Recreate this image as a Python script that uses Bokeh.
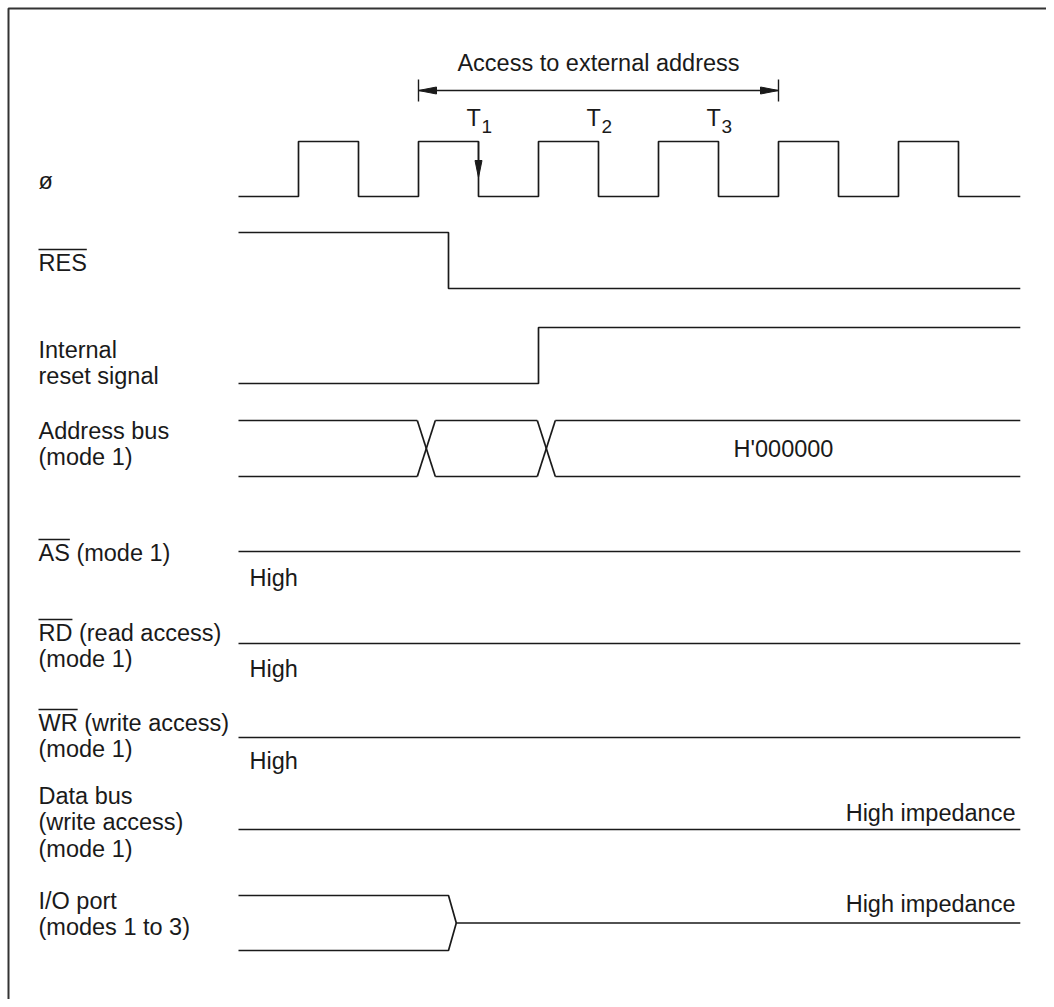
from bokeh.plotting import figure
from bokeh.models import Range1d
from bokeh.core.properties import value
from bokeh.embed import file_html
from bokeh.resources import INLINE

# ---------------- data (time in clock half-cycles, 0 = left end of waveforms) ----
clock_edges = [1, 2, 3, 4, 5, 6, 7, 8, 9, 10, 11, 12]   # alternating rise / fall
wave_end = 13.03
res_fall = 3.5
int_reset_rise = 5.0
addr_cross = [2.98, 4.98]      # start of each address-bus transition
cross_width = 0.3
io_hiz_start = 3.5
io_hiz_width = 0.13
access_span = [3.0, 9.0]
t_label_pos = [3.8, 5.8, 7.8]
t_label_sub = ["1", "2", "3"]
sample_edge = 4.0

signal_labels = [["ø"], ["RES"], ["Internal", "reset signal"],
                 ["Address bus", "(mode 1)"], ["AS (mode 1)"],
                 ["RD (read access)", "(mode 1)"], ["WR (write access)", "(mode 1)"],
                 ["Data bus", "(write access)", "(mode 1)"],
                 ["I/O port", "(modes 1 to 3)"]]
overlined = ["", "RES", "", "", "AS", "RD", "WR", "", ""]
label_top_y = [180, 262, 349, 430, 552, 632, 722, 795, 900]
state_notes = ["High", "High", "High"]
state_note_y = [577, 668, 760]
hiz_notes = ["High impedance", "High impedance"]
hiz_note_y = [812, 903]

# ---------------- layout (pixel geometry) ----------------
W, H = 1046, 999
X0, PX_PER_T = 238.0, 60.0


def t_of(px):
    return (px - X0) / PX_PER_T


INK = "#1a1a1a"
FONT = value("Liberation Sans")
FS = value("23.5px")
LW = 1.7

p = figure(width=W, height=H, output_backend="svg", toolbar_location=None,
           x_range=Range1d(t_of(0), t_of(W)), y_range=Range1d(H, 0),
           min_border=0)
p.axis.visible = False
p.grid.visible = False
p.outline_line_color = None
p.background_fill_color = "white"
p.border_fill_color = "white"

# page frame (top and left edges)
p.line([t_of(8), t_of(8), t_of(W + 5)], [H + 5, 8, 8], line_color="#333333", line_width=2)

# ---------------- clock ----------------
CLK_HI, CLK_LO = 141, 196
xs, ys = [0], [CLK_LO]
level = CLK_LO
for e in clock_edges:
    xs += [e, e]
    nxt = CLK_HI if level == CLK_LO else CLK_LO
    ys += [level, nxt]
    level = nxt
xs.append(wave_end); ys.append(level)
p.line(xs, ys, line_color=INK, line_width=LW)

# ---------------- RES ----------------
RES_HI, RES_LO = 232, 288
p.line([0, res_fall, res_fall, wave_end], [RES_HI, RES_HI, RES_LO, RES_LO],
       line_color=INK, line_width=LW)

# ---------------- internal reset ----------------
INT_LO, INT_HI = 383, 327
p.line([0, int_reset_rise, int_reset_rise, wave_end], [INT_LO, INT_LO, INT_HI, INT_HI],
       line_color=INK, line_width=LW)

# ---------------- address bus ----------------
A_T, A_B = 420, 476
segs_x, segs_y = [], []
starts = [0] + [c + cross_width for c in addr_cross]
ends = addr_cross + [wave_end]
for s, e in zip(starts, ends):
    segs_x += [[s, e], [s, e]]
    segs_y += [[A_T, A_T], [A_B, A_B]]
for c in addr_cross:
    segs_x += [[c, c + cross_width], [c, c + cross_width]]
    segs_y += [[A_T, A_B], [A_B, A_T]]
p.multi_line(segs_x, segs_y, line_color=INK, line_width=LW)

# ---------------- AS, RD, WR, data bus (static lines) ----------------
for yv in [551, 643, 737, 829]:
    p.line([0, wave_end], [yv, yv], line_color=INK, line_width=LW)

# ---------------- I/O port ----------------
IO_T, IO_B = 895, 950
IO_M = (IO_T + IO_B) / 2
p.multi_line([[0, io_hiz_start, io_hiz_start + io_hiz_width, wave_end],
              [0, io_hiz_start, io_hiz_start + io_hiz_width]],
             [[IO_T, IO_T, IO_M, IO_M], [IO_B, IO_B, IO_M]],
             line_color=INK, line_width=LW)

# ---------------- access arrow ----------------
ACC_Y = 90
a0, a1 = access_span
p.line([a0, a1], [ACC_Y, ACC_Y], line_color=INK, line_width=1.4)
p.multi_line([[a0, a0], [a1, a1]], [[79, 101], [79, 101]], line_color=INK, line_width=1.4)
hl = 18 / PX_PER_T
p.patches([[a0, a0 + hl, a0 + hl], [a1, a1 - hl, a1 - hl]],
          [[ACC_Y, ACC_Y - 3.5, ACC_Y + 3.5], [ACC_Y, ACC_Y - 3.5, ACC_Y + 3.5]],
          fill_color=INK, line_color=INK, line_width=1)
p.text(x=[(a0 + a1) / 2], y=[62], text=["Access to external address"],
       text_align="center", text_baseline="middle", text_font=FONT,
       text_font_size=FS, text_color=INK)

# sampling arrow on clock
p.line([sample_edge, sample_edge], [CLK_HI, 165], line_color=INK, line_width=1.4)
hw = 3.5 / PX_PER_T
p.patch([sample_edge - hw, sample_edge + hw, sample_edge],
        [160, 160, 177], fill_color=INK, line_color=INK, line_width=1)

# T labels
p.text(x=t_label_pos, y=[117] * 3, text=["T"] * 3, text_align="left",
       text_baseline="middle", text_font=FONT, text_font_size=FS, text_color=INK)
p.text(x=[t + 15 / PX_PER_T for t in t_label_pos], y=[126] * 3, text=t_label_sub,
       text_align="left", text_baseline="middle", text_font=FONT,
       text_font_size=value("19px"), text_color=INK)

# ---------------- left labels ----------------
LINE_H = 26.5
lx, ly, lt = [], [], []
for lines, y0 in zip(signal_labels, label_top_y):
    for i, s in enumerate(lines):
        lx.append(t_of(38)); ly.append(y0 + i * LINE_H); lt.append(s)
p.text(x=lx, y=ly, text=lt, text_align="left", text_baseline="middle",
       text_font=FONT, text_font_size=FS, text_color=INK)

# overlines
ARIAL = {"R": 722, "E": 667, "S": 667, "A": 667, "D": 722, "W": 944}
ox, oy = [], []
for word, y0 in zip(overlined, label_top_y):
    if not word:
        continue
    wpx = sum(ARIAL[c] for c in word) / 1000 * 23.5
    ox.append([t_of(38), t_of(38 + wpx)])
    oy.append([y0 - 13, y0 - 13])
p.multi_line(ox, oy, line_color=INK, line_width=1.4)

# state notes
p.text(x=[t_of(249)] * 3, y=state_note_y, text=state_notes, text_align="left",
       text_baseline="middle", text_font=FONT, text_font_size=FS, text_color=INK)
p.text(x=[t_of(1015)] * 2, y=hiz_note_y, text=hiz_notes, text_align="right",
       text_baseline="middle", text_font=FONT, text_font_size=FS, text_color=INK)
p.text(x=[t_of(783)], y=[(A_T + A_B) / 2], text=["H'000000"], text_align="center",
       text_baseline="middle", text_font=FONT, text_font_size=FS, text_color=INK)

open("out.html", "w").write(file_html(p, INLINE))
